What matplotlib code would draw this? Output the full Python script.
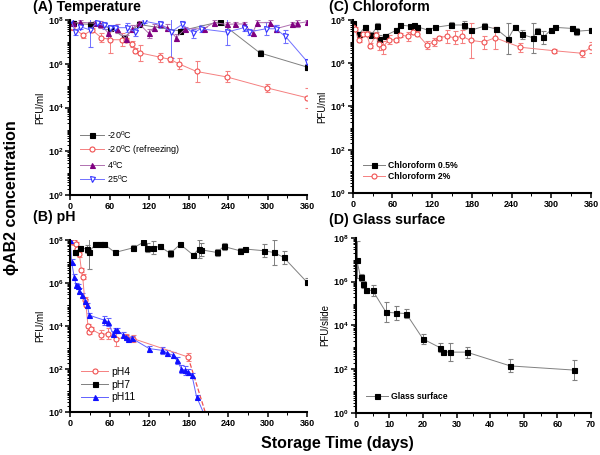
import numpy as np
import matplotlib
matplotlib.use("Agg")
import matplotlib.pyplot as plt
from matplotlib.ticker import FixedLocator, FuncFormatter, MultipleLocator, LogLocator, NullFormatter

plt.rcParams['font.family'] = ['Liberation Sans', 'DejaVu Sans']
plt.rcParams['mathtext.fontset'] = 'custom'
plt.rcParams['mathtext.rm'] = 'Liberation Sans'
plt.rcParams['mathtext.bf'] = 'Liberation Sans:bold'

# ---- (A) Temperature : log10 values ----
a_m20_day = [4, 30, 61, 82, 104, 167, 227, 288, 360]
a_m20_log = [7.85, 7.8, 7.65, 7.2, 7.8, 7.5, 7.92, 6.5, 5.85]
a_m20_err = [0.1, 0.05, 0.05, 0.1, 0.05, 0.05, 0.05, 0.15, 0.15]

a_ref_day = [2, 20, 33, 47, 61, 79, 84, 94, 99, 106, 137, 152, 165, 192, 238, 299, 360]
a_ref_log = [7.7, 7.3, 7.55, 7.2, 7.1, 7.1, 7.1, 6.9, 6.6, 6.5, 6.3, 6.2, 6.0, 5.65, 5.4, 4.9, 4.45]
a_ref_err = [0.15, 0.1, 0.1, 0.2, 0.6, 0.3, 0.1, 0.15, 0.1, 0.35, 0.2, 0.1, 0.25, 0.5, 0.25, 0.2, 0.45]

a_4_day = [4, 15, 38, 46, 58, 71, 84, 94, 104, 119, 127, 137, 147, 161, 175, 203, 218, 238, 251,
           264, 277, 284, 304, 312, 337, 345, 360]
a_4_log = [7.85, 7.9, 7.85, 7.8, 7.4, 7.6, 7.15, 7.6, 7.85, 7.4, 7.65, 7.8, 7.65, 7.2, 7.6, 7.6,
           7.88, 7.8, 7.82, 7.82, 7.4, 7.88, 7.88, 7.6, 7.8, 7.85, 7.92]
a_4_err = [0.1, 0.1, 0.1, 0.15, 0.2, 0.2, 0.15, 0.15, 0.1, 0.2, 0.15, 0.1, 0.15, 0.15, 0.1, 0.1,
           0.1, 0.1, 0.1, 0.1, 0.15, 0.1, 0.1, 0.15, 0.1, 0.15, 0.1]

a_25_day = [1, 8, 15, 30, 40, 51, 61, 68, 86, 99, 112, 137, 153, 170, 187, 198, 238, 264, 271,
            297, 312, 327, 360]
a_25_log = [8.0, 7.45, 7.7, 7.55, 7.85, 7.75, 7.65, 7.65, 7.65, 7.45, 7.95, 7.8, 7.45, 7.8, 7.4,
            7.6, 7.45, 7.65, 7.45, 7.6, 7.6, 7.25, 6.1]
a_25_err = [0.05, 0.15, 0.1, 0.8, 0.1, 0.15, 0.1, 0.1, 0.2, 0.2, 0.1, 0.15, 1.2, 0.15, 0.2,
            0.15, 0.6, 0.15, 0.15, 0.3, 0.15, 0.3, 0.1]

# ---- (B) pH ----
b_ph4_day = [2, 6, 9, 11, 14, 17, 19, 22, 24, 27, 29, 32, 47, 57, 70, 84, 96, 179]
b_ph4_log = [7.92, 7.9, 7.8, 7.6, 7.33, 6.6, 6.3, 5.2, 4.97, 4.0, 3.73, 3.85, 3.6, 3.65, 3.38,
             3.5, 3.41, 2.56]
b_ph4_err = [0.1, 0.1, 0.1, 0.1, 0.1, 0.1, 0.1, 0.15, 0.1, 0.1, 0.1, 0.1, 0.2, 0.25, 0.3,
             0.15, 0.15, 0.2]
b_ph4_end_day = [179, 205]
b_ph4_end_log = [2.56, 0.0]

b_ph7_day = [8, 15, 25, 29, 38, 46, 52, 68, 96, 111, 117, 126, 136, 152, 167, 187, 195, 198,
             223, 233, 258, 266, 295, 309, 324, 359]
b_ph7_log = [7.42, 7.64, 7.58, 7.45, 7.8, 7.8, 7.8, 7.42, 7.64, 7.89, 7.64, 7.64, 7.7, 7.38,
             7.8, 7.3, 7.58, 7.55, 7.42, 7.7, 7.5, 7.58, 7.5, 7.42, 7.2, 6.06]
b_ph7_err = [0.1, 0.1, 0.2, 0.8, 0.1, 0.1, 0.1, 0.05, 0.15, 0.1, 0.2, 0.3, 0.1, 0.15, 0.05,
             0.1, 0.4, 0.3, 0.15, 0.15, 0.15, 0.05, 0.3, 0.6, 0.3, 0.15]

b_ph11_day = [0, 2, 6, 9, 12, 14, 18, 23, 26, 29, 52, 57, 65, 68, 71, 80, 84, 88, 94, 120, 139,
              147, 156, 162, 169, 175, 179, 185, 192, 202]
b_ph11_log = [8.0, 7.0, 6.3, 5.9, 5.85, 5.65, 5.43, 5.15, 4.97, 4.5, 4.27, 4.19, 3.65, 3.8,
              3.8, 3.6, 3.5, 3.38, 3.42, 2.95, 2.87, 2.75, 2.64, 2.4, 2.0, 1.94, 1.86, 1.7,
              0.7, 0.0]
b_ph11_err = [0.05, 0.1, 0.1, 0.1, 0.1, 0.1, 0.1, 0.1, 0.1, 0.1, 0.2, 0.2, 0.1, 0.1, 0.1, 0.1,
              0.1, 0.1, 0.1, 0.1, 0.15, 0.15, 0.15, 0.15, 0.2, 0.2, 0.15, 0.1, 0.1, 0.0]

# ---- (C) Chloroform ----
c_05_day = [1, 9, 18, 28, 37, 39, 48, 66, 72, 86, 92, 97, 114, 124, 149, 168, 179, 199, 217,
            235, 245, 255, 272, 279, 288, 299, 306, 332, 338, 360]
c_05_log = [7.87, 7.34, 7.66, 7.3, 7.72, 7.1, 7.26, 7.53, 7.77, 7.72, 7.77, 7.69, 7.53, 7.66,
            7.77, 7.77, 7.53, 7.72, 7.58, 7.14, 7.69, 7.34, 7.18, 7.5, 7.21, 7.53, 7.66, 7.61,
            7.48, 7.53]
c_05_err = [0.1, 0.1, 0.1, 0.15, 0.15, 0.2, 0.1, 0.1, 0.05, 0.1, 0.05, 0.1, 0.1, 0.05, 0.15,
            0.2, 0.05, 0.15, 0.1, 0.7, 0.1, 0.2, 0.7, 0.15, 0.3, 0.1, 0.05, 0.1, 0.15, 0.1]

c_2_day = [1, 3, 9, 15, 21, 26, 35, 39, 45, 55, 65, 72, 83, 91, 97, 112, 122, 130, 142, 154,
           165, 178, 198, 215, 253, 304, 347, 360]
c_2_log = [7.69, 7.6, 7.06, 7.34, 7.37, 6.82, 7.3, 6.9, 6.74, 7.09, 7.09, 7.3, 7.25, 7.45,
           7.37, 6.85, 6.98, 7.18, 7.25, 7.18, 7.25, 7.06, 6.98, 7.18, 6.74, 6.58, 6.46, 6.74]
c_2_err = [0.15, 0.1, 0.1, 0.1, 0.1, 0.1, 0.15, 0.3, 0.3, 0.2, 0.1, 0.1, 0.2, 0.1, 0.1, 0.2,
           0.2, 0.1, 0.3, 0.3, 0.3, 0.8, 0.3, 0.5, 0.2, 0.1, 0.15, 0.25]

# ---- (D) Glass surface ----
d_day = [0.3, 1.4, 2, 3, 5, 9, 12, 15, 20, 25, 26, 28, 33, 46, 65]
d_log = [7.0, 6.2, 5.87, 5.6, 5.6, 4.6, 4.57, 4.54, 3.38, 2.99, 2.8, 2.78, 2.78, 2.15, 1.96]
d_err = [0.85, 0.15, 0.15, 0.1, 0.25, 0.45, 0.3, 0.2, 0.25, 0.2, 0.1, 0.4, 0.25, 0.3, 0.45]


def log_series(ax, day, lg, err, color, line_color, marker, mfc, label, ms=3.6):
    lg = np.array(lg)
    err = np.array(err)
    y = 10 ** lg
    lo = y - 10 ** (lg - err)
    hi = 10 ** (lg + err) - y
    cont = ax.errorbar(day, y, yerr=[lo, hi], color=line_color, ecolor=line_color, lw=0.7,
                       elinewidth=0.7, capsize=1.8, capthick=0.7, marker=marker, ms=ms,
                       mfc=mfc, mec=color, mew=0.8)
    line = cont[0]
    line.set_label(label)
    return line


def style(ax, xmax, xmajor, xminor, ylabel):
    ax.set_yscale('log')
    ax.set_ylim(1, 1e8)
    ax.set_xlim(0, xmax)
    ax.xaxis.set_major_locator(MultipleLocator(xmajor))
    ax.xaxis.set_minor_locator(MultipleLocator(xminor))
    ax.yaxis.set_major_locator(FixedLocator([1, 1e2, 1e4, 1e6, 1e8]))
    ax.yaxis.set_minor_locator(LogLocator(base=10, subs=np.arange(1, 10), numticks=20))
    ax.yaxis.set_minor_formatter(NullFormatter())
    ax.yaxis.set_major_formatter(FuncFormatter(
        lambda v, p: r'$\mathbf{10^{%d}}$' % int(round(np.log10(v)))))
    ax.spines['top'].set_visible(False)
    ax.spines['right'].set_visible(False)
    ax.spines['left'].set_linewidth(1.5)
    ax.spines['bottom'].set_linewidth(1.5)
    ax.tick_params(which='major', length=3.5, width=1.1, labelsize=6.5, pad=1.5)
    ax.tick_params(which='minor', length=2, width=0.7)
    for t in ax.get_xticklabels():
        t.set_fontweight('bold')
    ax.set_ylabel(ylabel, fontsize=7, labelpad=2)


fig = plt.figure(figsize=(6, 4.55), dpi=100)
axA = fig.add_axes([0.117, 0.571, 0.395, 0.385])
axB = fig.add_axes([0.117, 0.0945, 0.395, 0.378])
axC = fig.add_axes([0.588, 0.576, 0.397, 0.380])
axD = fig.add_axes([0.593, 0.0923, 0.392, 0.385])

leg_kw = dict(loc='lower left', frameon=False, handlelength=2.6, labelspacing=0.25,
              borderaxespad=0.2, handletextpad=0.3)

# A
hA = [log_series(axA, a_m20_day, a_m20_log, a_m20_err, 'black', '#808080', 's', 'black',
                 '-20$^0$C'),
      log_series(axA, a_ref_day, a_ref_log, a_ref_err, '#f05050', '#f58080', 'o', 'white',
                 '-20$^0$C (refreezing)'),
      log_series(axA, a_4_day, a_4_log, a_4_err, '#800080', '#b070b0', '^', '#800080',
                 '4$^0$C'),
      log_series(axA, a_25_day, a_25_log, a_25_err, '#3030ff', '#7070ff', 'v', 'white',
                 '25$^0$C')]
style(axA, 360, 60, 30, 'PFU/ml')
axA.legend(handles=hA, bbox_to_anchor=(0.02, 0.03), fontsize=6.5, **leg_kw)

# B
hB = [log_series(axB, b_ph4_day, b_ph4_log, b_ph4_err, '#f05050', '#f58080', 'o', 'white',
                 'pH4')]
axB.plot(b_ph4_end_day, 10 ** np.array(b_ph4_end_log), color='#f05050', ls='--', lw=0.9)
hB.append(log_series(axB, b_ph7_day, b_ph7_log, b_ph7_err, 'black', '#808080', 's', 'black',
                     'pH7'))
hB.append(log_series(axB, b_ph11_day[:-1], b_ph11_log[:-1], b_ph11_err[:-1], '#1010ff',
                     '#6060ff', '^', '#1010ff', 'pH11'))
axB.plot(b_ph11_day[-2:], 10 ** np.array(b_ph11_log[-2:]), color='#6060ff', lw=0.7)
style(axB, 360, 60, 30, 'PFU/ml')
axB.legend(handles=hB, bbox_to_anchor=(0.02, 0.02), fontsize=7.5, **leg_kw)

# C
hC = [log_series(axC, c_05_day, c_05_log, c_05_err, 'black', '#808080', 's', 'black',
                 'Chloroform 0.5%'),
      log_series(axC, c_2_day, c_2_log, c_2_err, '#f05050', '#f58080', 'o', 'white',
                 'Chloroform 2%')]
style(axC, 360, 60, 30, 'PFU/ml')
legC = axC.legend(handles=hC, bbox_to_anchor=(0.02, 0.04), fontsize=6.2, **leg_kw)
for t in legC.get_texts():
    t.set_fontweight('bold')

# D
hD = [log_series(axD, d_day, d_log, d_err, 'black', '#808080', 's', 'black', 'Glass surface')]
style(axD, 70, 10, 5, 'PFU/slide')
legD = axD.legend(handles=hD, bbox_to_anchor=(0.02, 0.04), fontsize=6.2, **leg_kw)
for t in legD.get_texts():
    t.set_fontweight('bold')

fig.text(0.055, 0.984, '(A) Temperature', fontsize=10.2, fontweight='bold', va='center')
fig.text(0.055, 0.522, '(B) pH', fontsize=10.2, fontweight='bold', va='center')
fig.text(0.548, 0.984, '(C) Chloroform', fontsize=10.2, fontweight='bold', va='center')
fig.text(0.548, 0.517, '(D) Glass surface', fontsize=10.2, fontweight='bold', va='center')
fig.text(0.02, 0.565, '\u03d5AB2 concentration', fontsize=11.5, fontweight='bold', rotation=90,
         ha='center', va='center', family=['Liberation Sans', 'DejaVu Sans'])
fig.text(0.562, 0.025, 'Storage Time (days)', fontsize=11.5, fontweight='bold', ha='center',
         va='center')

fig.savefig('out.png', dpi=100)
